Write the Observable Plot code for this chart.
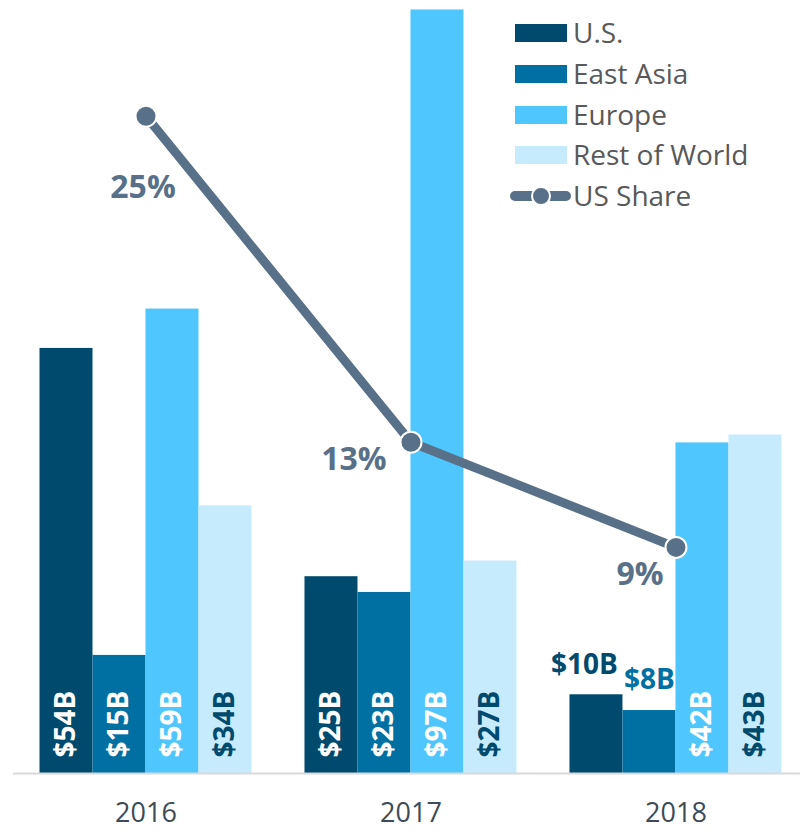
<!DOCTYPE html>
<html><head><meta charset="utf-8">
<script src="https://cdn.jsdelivr.net/npm/d3@7"></script>
<script src="https://cdn.jsdelivr.net/npm/@observablehq/plot@0.6"></script>
<style>
body{margin:0;background:#fff;font-family:"Open Sans",sans-serif}
#wrap{position:relative;width:800px;height:831px;overflow:hidden}
#legend{position:absolute;left:0;top:0;pointer-events:none}
</style></head><body><div id="wrap"></div>
<script>
const years = [2016, 2017, 2018];
const regions = ["U.S.", "East Asia", "Europe", "Rest of World"];
const usValues = [54, 25, 10];
const eastAsiaValues = [15, 23, 8];
const europeValues = [59, 97, 42];
const restValues = [34, 27, 43];
const usShare = [25.0, 12.6, 8.6];
const shareName = "US Share";

const regionColors = ["#004a6d", "#0070a3", "#4fc6fd", "#c6ebfd"];
const insideLabelColors = ["#ffffff", "#ffffff", "#ffffff", "#004a6d"];
const outsideLabelColors = ["#004a6d", "#0070a3", "#4fc6fd", "#c6ebfd"];
const shareColor = "#587189";
const yMax = 98.2;          // $B at top of plot
const shareAxisMax = 29.4;  // % at top of secondary axis
const font = "'Open Sans', sans-serif";

const series = [usValues, eastAsiaValues, europeValues, restValues];
const groupWidth = 0.8;
const barW = groupWidth / regions.length;
const rows = [];
years.forEach((yr, i) => {
  regions.forEach((r, j) => {
    const v = series[j][i];
    const x1 = i - groupWidth / 2 + j * barW;
    rows.push({year: yr, i, region: r, j, value: v, x1, x2: x1 + barW, xc: x1 + barW / 2,
      label: "$" + v + "B", inside: v >= 12});
  });
});
const shareRows = years.map((yr, i) => ({year: yr, i, share: usShare[i],
  y: usShare[i] / shareAxisMax * yMax, label: d3.format(".0f")(usShare[i]) + "%"}));
const shareLabelDx = [-3, -57, -36];
const shareLabelDy = [72, 18, 27];

const inside = rows.filter(d => d.inside);
const outside = rows.filter(d => !d.inside);

const chart = Plot.plot({
  width: 800, height: 831,
  marginLeft: 13, marginRight: 0, marginTop: 0, marginBottom: 58,
  style: {fontFamily: font, background: "transparent"},
  x: {type: "linear", domain: [-0.5, 2.47], axis: null},
  y: {domain: [0, yMax], axis: null},
  color: {domain: regions, range: regionColors},
  marks: [
    Plot.rectY(rows, {x1: "x1", x2: "x2", y1: 0, y2: "value", fill: "region"}),
    Plot.ruleY([0], {stroke: "#d9d9d9", strokeWidth: 2}),
    Plot.text(inside, {x: "xc", y: 0, text: "label", rotate: -90, textAnchor: "start", lineAnchor: "middle",
      dy: -16, fontSize: 28, fontWeight: "bold", fill: d => insideLabelColors[d.j]}),
    ...outside.map(d => Plot.text([d], {x: "xc", y: "value", text: "label", lineAnchor: "middle",
      dy: -30, dx: d.j === 0 ? -12 : 0, fontSize: 28, fontWeight: "bold", fill: outsideLabelColors[d.j]})),
    Plot.line(shareRows, {x: "i", y: "y", stroke: shareColor, strokeWidth: 9, strokeLinejoin: "round"}),
    Plot.dot(shareRows, {x: "i", y: "y", r: 10.5, fill: shareColor, stroke: "white", strokeWidth: 2}),
    ...shareRows.map((d, k) => Plot.text([d], {x: "i", y: "y", text: "label", dx: shareLabelDx[k], dy: shareLabelDy[k],
      lineAnchor: "middle", fontSize: 32, fontWeight: "bold", fill: shareColor})),
    Plot.text(years.map((yr, i) => ({yr, i})), {x: "i", y: 0, text: d => String(d.yr), dy: 40,
      lineAnchor: "middle", fontSize: 27, fill: "#3d4b57"})
  ]
});
const wrap = document.getElementById("wrap");
wrap.appendChild(chart);

// legend overlay
const lg = d3.create("svg").attr("id", "legend").attr("width", 800).attr("height", 230)
  .style("font-family", font);
const rowCenters = [33, 74, 115, 155, 196];
regions.forEach((r, j) => {
  lg.append("rect").attr("x", 515).attr("y", rowCenters[j] - 9).attr("width", 52).attr("height", 18).attr("fill", regionColors[j]);
  lg.append("text").attr("x", 573).attr("y", rowCenters[j] + 10).attr("font-size", 28).attr("fill", "#595959").text(r);
});
const c = rowCenters[4];
lg.append("line").attr("x1", 515).attr("x2", 566).attr("y1", c).attr("y2", c)
  .attr("stroke", shareColor).attr("stroke-width", 10).attr("stroke-linecap", "round");
lg.append("circle").attr("cx", 541).attr("cy", c).attr("r", 9).attr("fill", shareColor).attr("stroke", "white").attr("stroke-width", 2);
lg.append("text").attr("x", 573).attr("y", c + 10).attr("font-size", 28).attr("fill", "#595959").text(shareName);
wrap.appendChild(lg.node());
</script></body></html>
